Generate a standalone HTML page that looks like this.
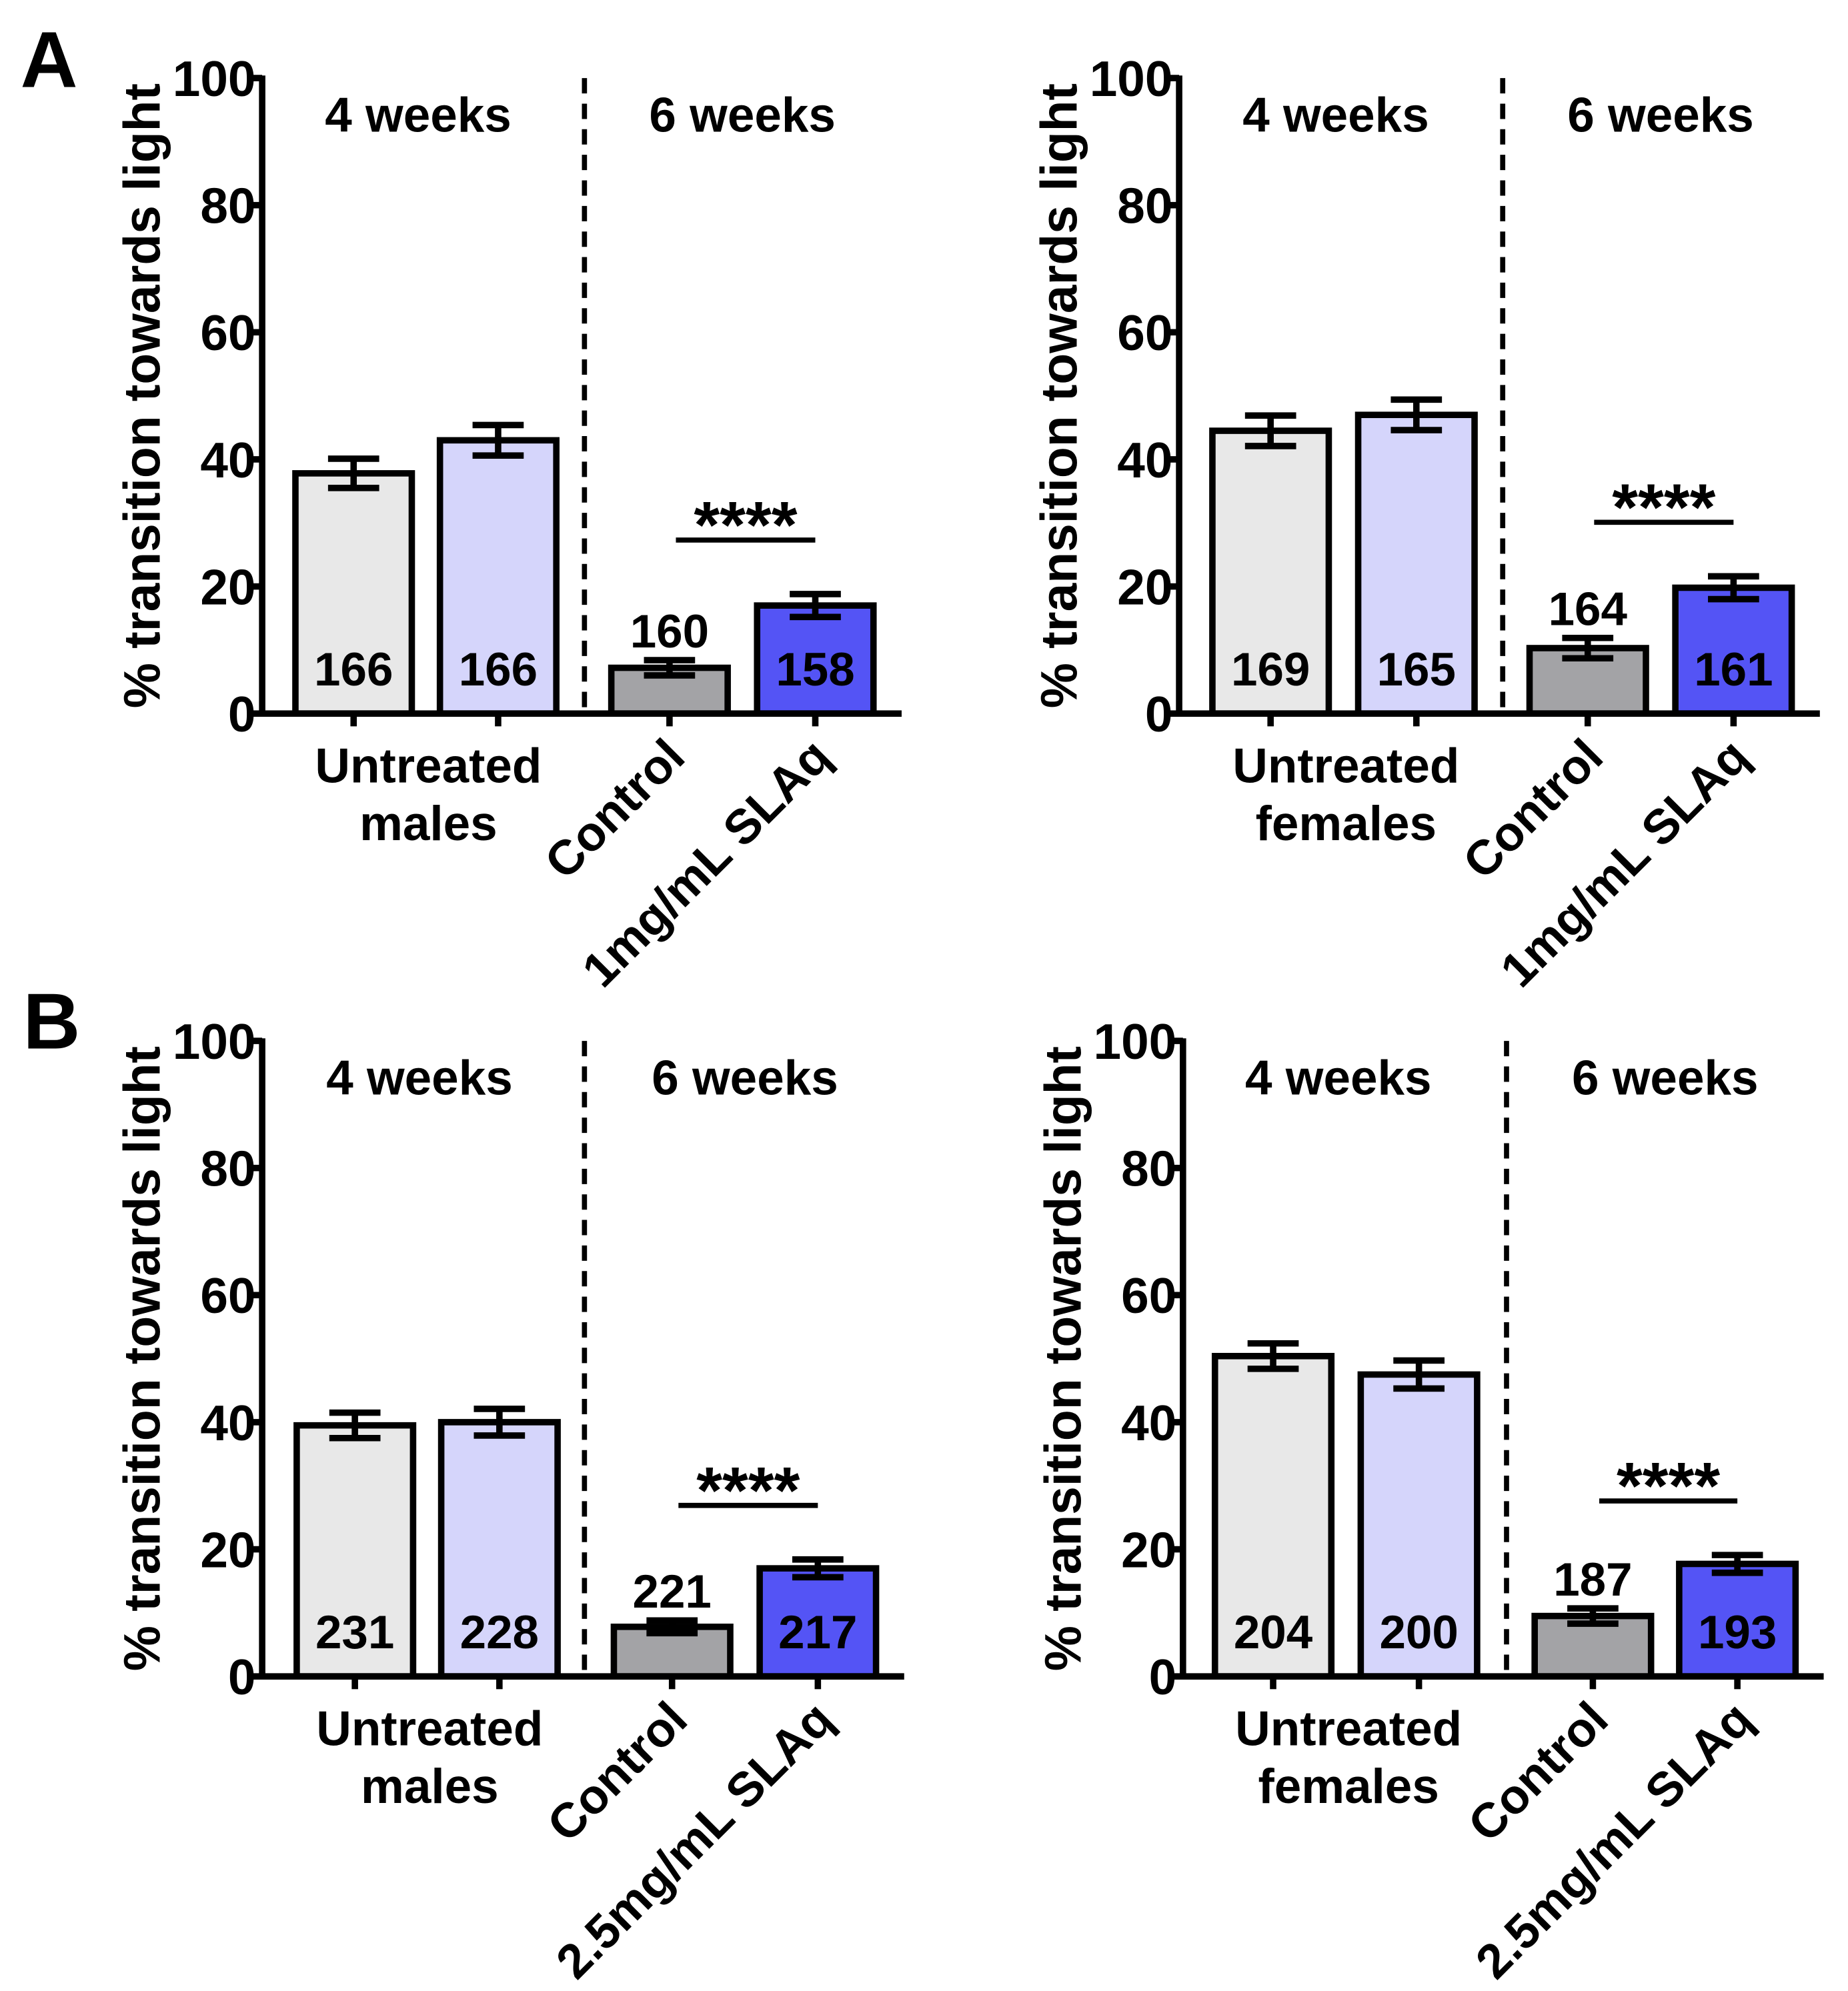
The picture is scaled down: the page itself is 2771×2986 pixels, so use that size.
<!DOCTYPE html>
<html><head><meta charset="utf-8"><style>
html,body{margin:0;padding:0;background:#fff}
svg{display:block}
text{font-family:"Liberation Sans",Arial,sans-serif;font-weight:bold;fill:#000}
</style></head><body>
<svg id="fig" width="2771" height="2986" viewBox="0 0 1445 1557" xmlns="http://www.w3.org/2000/svg">
<text x="16" y="68" font-size="62">A</text>
<text x="18" y="820" font-size="62">B</text>
</svg>
<script>
const yTicks = [0, 20, 40, 60, 80, 100];
const fills = ["#e8e8e8", "#d5d5fb", "#a3a3a6", "#5454f5"];
const aLeftMeans = [37.8, 43.0, 7.2, 17.0];
const aLeftErr = [2.3, 2.4, 1.2, 1.8];
const aLeftN = ["166", "166", "160", "158"];
const aRightMeans = [44.5, 47.0, 10.3, 19.8];
const aRightErr = [2.4, 2.4, 1.6, 1.8];
const aRightN = ["169", "165", "164", "161"];
const bLeftMeans = [39.5, 40.0, 7.8, 17.0];
const bLeftErr = [2.0, 2.1, 1.0, 1.4];
const bLeftN = ["231", "228", "221", "217"];
const bRightMeans = [50.4, 47.5, 9.5, 17.7];
const bRightErr = [2.0, 2.2, 1.2, 1.4];
const bRightN = ["204", "200", "187", "193"];

const NS = "http://www.w3.org/2000/svg";
const svg = document.getElementById("fig");
function mk(tag, attrs, parent) {
  const e = document.createElementNS(NS, tag);
  for (const k in attrs) e.setAttribute(k, attrs[k]);
  (parent || svg).appendChild(e);
  return e;
}
function panel(id, ax, y0, means, errs, ns, group, dose, barX, dashX) {
  const g = mk("g", {});
  
  
  const y100 = y0 - 497;
  const ys = v => y0 - v / 100 * 497;
  const bw = 91;
  means.forEach((m, i) => {
    const r = mk("rect", {x: barX[i], y: ys(m), width: bw, height: y0 - ys(m), fill: fills[i], stroke: "#000", "stroke-width": 5}, g);
    
    
    const cx = barX[i] + bw / 2;
    const eb = mk("path", {d: `M${cx-20},${ys(m+errs[i])}H${cx+20}M${cx},${ys(m+errs[i])}V${ys(m-errs[i])}M${cx-20},${ys(m-errs[i])}H${cx+20}`, stroke: "#000", "stroke-width": 5, fill: "none"}, g);
    
    
    const tk = mk("line", {x1: cx, x2: cx, y1: y0, y2: y0 + 10, stroke: "#000", "stroke-width": 5}, g);
    
    
    const ny = (i === 2) ? ys(m + errs[i]) - 10 : y0 - 22;
    const t = mk("text", {x: cx, y: ny, "font-size": 37, "text-anchor": "middle"}, g);
    t.textContent = ns[i];
    
    
  });
  const axis = mk("path", {d: `M${ax},${y100-2}V${y0}H${barX[3]+bw+22}`, stroke: "#000", "stroke-width": 5, fill: "none"}, g);
  
  
  yTicks.forEach(v => {
    const l = mk("line", {x1: ax - 10, x2: ax, y1: ys(v), y2: ys(v), stroke: "#000", "stroke-width": 5}, g);
    
    
    const t = mk("text", {x: ax - 5, y: ys(v) + 14, "font-size": 39, "text-anchor": "end"}, g);
    t.textContent = v;
    
    
  });
  const yt = mk("text", {x: 0, y: 0, "font-size": 40, "text-anchor": "middle", transform: `translate(${ax-80},${ys(50)}) rotate(-90)`}, g);
  yt.textContent = "% transition towards light";
  
  
  const dl = mk("line", {x1: dashX, x2: dashX, y1: y100, y2: y0 - 4, stroke: "#000", "stroke-width": 4, "stroke-dasharray": "12,8"}, g);
  
  
  const c1 = (barX[0] + barX[1] + bw) / 2, c2 = (barX[2] + barX[3] + bw) / 2;
  const w4 = mk("text", {x: c1 - 6, y: y100 + 42, "font-size": 38, "text-anchor": "middle"}, g);
  w4.textContent = "4 weeks";
  
  
  const w6 = mk("text", {x: c2, y: y100 + 42, "font-size": 38, "text-anchor": "middle"}, g);
  w6.textContent = "6 weeks";
  
  
  const sx1 = barX[2] + bw / 2 + 5, sx2 = barX[3] + bw / 2;
  const sy = ys(Math.max(means[3] + errs[3], means[2]) + 8.5);
  const sl = mk("line", {x1: sx1, x2: sx2, y1: sy, y2: sy, stroke: "#000", "stroke-width": 4}, g);
  
  
  const st = mk("text", {x: (sx1 + sx2) / 2, y: sy + 6, "font-size": 52, "text-anchor": "middle"}, g);
  st.textContent = "****";
  
  
  const u = mk("text", {x: c1 + 2, y: y0 + 54, "font-size": 38, "text-anchor": "middle"}, g);
  u.textContent = "Untreated";
  
  
  const u2 = mk("text", {x: c1 + 2, y: y0 + 99, "font-size": 38, "text-anchor": "middle"}, g);
  u2.textContent = group;
  
  
  const ctl = mk("text", {x: 0, y: 0, "font-size": 38, "text-anchor": "end", transform: `translate(${barX[2]+bw/2+14},${y0+36}) rotate(-45)`}, g);
  ctl.textContent = "Control";
  
  
  const ds = mk("text", {x: 0, y: 0, "font-size": 38, "text-anchor": "end", transform: `translate(${barX[3]+bw/2+14},${y0+36}) rotate(-45)`}, g);
  ds.textContent = dose;
  
  
}
panel("panel-a-males", 205, 558, aLeftMeans, aLeftErr, aLeftN, "males", "1mg/mL SLAq", [231, 344, 478, 592], 457);
panel("panel-a-females", 922, 558, aRightMeans, aRightErr, aRightN, "females", "1mg/mL SLAq", [948, 1062, 1196, 1310], 1175);
panel("panel-b-males", 205, 1311, bLeftMeans, bLeftErr, bLeftN, "males", "2.5mg/mL SLAq", [232, 345, 480, 594], 457);
panel("panel-b-females", 925, 1311, bRightMeans, bRightErr, bRightN, "females", "2.5mg/mL SLAq", [950, 1064, 1200, 1313], 1178);
</script>
</body></html>
